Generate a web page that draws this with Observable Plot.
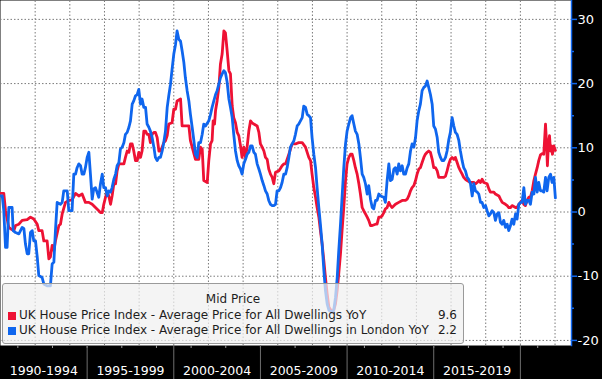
<!DOCTYPE html>
<html>
<head>
<meta charset="utf-8">
<script src="https://cdn.jsdelivr.net/npm/d3@7"></script>
<script src="https://cdn.jsdelivr.net/npm/@observablehq/plot@0.6"></script>
<style>
  html, body { margin: 0; padding: 0; background: #000; }
  #wrap { position: relative; width: 602px; height: 379px; font-family: "DejaVu Sans", sans-serif; }
  #legend { position: absolute; left: 2px; top: 283px; width: 460px; height: 59px;
    background: rgba(240,240,240,0.72); border: 1px solid #9a9a9a; border-radius: 3px;
    font-size: 12px; line-height: 14px; color: #1e1e1e; }
  #legend .ttl { position: absolute; left: 0; right: 0; top: 8px; text-align: center; }
  #legend .sw { position: absolute; left: 5px; width: 8px; height: 8px; }
  #legend .lab { position: absolute; left: 16px; white-space: nowrap; }
  #legend .val { position: absolute; right: 6px; text-align: right; }
</style>
</head>
<body>
<div id="wrap"></div>
<script>
// ---- data ----
const seriesNames = [
  "UK House Price Index - Average Price for All Dwellings YoY",
  "UK House Price Index - Average Price for All Dwellings in London YoY"
];
const legendTitle = "Mid Price";
const periodLabels = ["1990-1994", "1995-1999", "2000-2004", "2005-2009", "2010-2014", "2015-2019"];
const periodMid = [1992.5, 1997.5, 2002.5, 2007.5, 2012.5, 2017.5];
const periodStart = [1995, 2000, 2005, 2010, 2015, 2020];
const yTicks = [-20, -10, 0, 10, 20, 30];
const yMinorTicks = [-15, -5, 5, 15, 25];
const gridYears = [1992, 1994, 1996, 1998, 2000, 2002, 2004, 2006, 2008, 2010, 2012, 2014, 2016, 2018, 2020, 2022];
const oddYears = [1991, 1993, 1995, 1997, 1999, 2001, 2003, 2005, 2007, 2009, 2011, 2013, 2015, 2017, 2019, 2021];

// UK average price YoY % [decimal year, value]
const ukYoY = [
[1990.00,2.9],[1990.19,2.9],[1990.29,0.2],[1990.48,-2.4],[1990.58,-2.6],[1990.77,-2.9],[1990.87,-2.1],
[1991.06,-1.9],[1991.25,-1.3],[1991.54,-1.2],[1991.73,-0.8],[1991.92,-1.1],[1992.12,-1.9],[1992.21,-2.9],
[1992.40,-2.9],[1992.50,-4.5],[1992.69,-4.5],[1992.79,-7.3],[1992.88,-7.0],[1992.98,-5.2],[1993.08,-6.0],
[1993.17,-4.5],[1993.37,-2.1],[1993.46,-1.9],[1993.56,-0.3],[1993.75,1.5],[1993.94,1.8],[1994.13,1.9],
[1994.33,2.9],[1994.52,2.5],[1994.71,2.8],[1994.90,1.5],[1995.10,1.5],[1995.29,1.2],
[1995.48,0.7],[1995.67,0.2],[1995.77,-0.1],[1995.87,-0.1],[1995.96,1.2],[1996.06,2.3],[1996.16,3.1],
[1996.25,2.5],[1996.35,1.2],[1996.44,2.5],[1996.54,4.4],[1996.64,4.4],[1996.73,6.4],[1996.83,7.5],
[1997.12,7.5],[1997.21,8.5],[1997.31,9.5],[1997.41,9.3],[1997.50,10.6],[1997.60,10.6],[1997.69,9.5],
[1997.79,8.0],[1997.89,8.0],[1997.98,9.3],[1998.08,8.5],[1998.17,9.5],[1998.27,12.6],[1998.37,12.6],
[1998.46,12.1],[1998.56,12.1],[1998.65,10.8],[1998.75,12.1],[1998.85,12.4],[1998.94,12.4],[1999.04,11.6],
[1999.14,9.5],[1999.23,9.5],[1999.33,10.1],[1999.42,10.8],[1999.52,11.1],[1999.62,11.9],[1999.71,13.7],
[1999.90,13.9],[2000.00,16.0],[2000.10,16.0],[2000.19,17.3],[2000.39,17.6],[2000.48,13.4],[2000.67,13.4],
[2000.87,13.4],
[2000.96,11.1],[2001.06,10.1],[2001.25,8.2],[2001.44,8.2],[2001.54,10.1],[2001.64,9.8],[2001.73,4.9],
[2001.93,4.6],[2002.02,8.0],[2002.12,10.6],[2002.21,11.1],[2002.27,14.2],[2002.35,13.7],[2002.41,15.8],
[2002.50,17.3],[2002.60,19.4],[2002.69,23.0],[2002.79,24.6],[2002.89,28.2],[2002.98,27.9],[2003.08,25.1],
[2003.18,22.0],[2003.27,21.5],[2003.37,16.5],[2003.46,14.7],[2003.56,13.9],[2003.66,12.4],[2003.75,11.9],
[2003.85,10.3],[2003.94,8.5],[2004.04,10.1],[2004.14,8.5],[2004.23,10.1],[2004.33,12.6],[2004.43,14.2],
[2004.52,13.9],[2004.62,13.7],[2004.81,13.4],[2004.91,12.4],[2005.00,10.6],[2005.10,10.1],[2005.20,9.5],
[2005.29,8.5],[2005.39,8.2],[2005.48,6.7],[2005.58,5.9],[2005.68,5.4],[2005.77,4.4],[2005.87,6.2],
[2006.06,6.4],[2006.25,7.2],[2006.35,7.5],
[2006.45,7.5],[2006.64,9.0],[2006.83,10.6],[2007.02,10.6],[2007.21,10.8],[2007.41,10.8],[2007.60,10.1],
[2007.79,8.5],[2007.89,8.0],[2007.98,5.9],[2008.08,3.8],[2008.18,2.3],[2008.27,0.7],[2008.37,-0.8],
[2008.46,-2.9],[2008.56,-5.0],[2008.66,-7.6],[2008.75,-10.2],[2008.85,-12.7],[2008.95,-14.8],[2009.14,-15.6],
[2009.23,-15.3],[2009.33,-14.3],[2009.43,-12.2],[2009.52,-9.6],[2009.62,-6.5],[2009.71,-2.9],[2009.81,0.7],
[2009.91,4.9],[2010.00,7.5],[2010.10,8.5],[2010.20,9.0],[2010.29,9.0],[2010.39,8.0],[2010.48,6.9],
[2010.58,5.9],[2010.68,4.4],[2010.77,2.8],[2010.87,0.7],[2010.96,0.2],[2011.06,-0.3],[2011.16,-0.8],
[2011.25,-1.3],[2011.35,-2.1],[2011.45,-2.1],[2011.64,-1.9],[2011.73,-1.9],[2011.83,-0.8],
[2011.93,-0.8],[2012.02,-0.6],[2012.12,-0.1],[2012.21,0.5],[2012.31,0.7],[2012.41,1.5],[2012.50,1.0],
[2012.60,0.7],[2012.79,1.2],[2012.98,1.5],[2013.18,1.8],[2013.37,1.8],[2013.47,2.0],[2013.56,2.5],
[2013.66,3.3],[2013.75,3.8],[2013.85,4.1],[2013.95,4.9],[2014.04,5.9],[2014.14,6.7],[2014.23,6.9],
[2014.33,7.7],[2014.43,8.5],[2014.52,9.0],[2014.62,9.3],[2014.71,9.5],[2014.81,9.3],[2014.91,8.2],
[2015.00,6.9],[2015.10,6.9],[2015.20,6.4],[2015.29,5.4],[2015.58,5.4],[2015.68,5.6],[2015.77,6.4],
[2015.87,7.5],[2015.96,8.2],[2016.06,8.5],[2016.16,8.2],[2016.25,8.5],[2016.35,7.7],[2016.45,6.9],
[2016.54,6.4],[2016.64,5.9],[2016.73,5.4],[2016.83,5.1],[2016.93,4.9],[2017.12,4.6],[2017.31,4.6],
[2017.41,4.4],[2017.51,4.6],[2017.60,4.9],[2017.70,4.6],[2017.79,5.1],[2017.89,4.6],[2018.08,4.4],
[2018.18,3.6],[2018.27,3.1],[2018.47,3.1],[2018.56,2.8],[2018.76,2.5],[2018.85,2.0],[2018.95,1.5],
[2019.14,1.2],[2019.24,1.0],[2019.33,0.7],[2019.43,0.7],[2019.52,1.0],[2019.72,0.7],[2019.81,0.7],
[2019.91,1.2],[2020.10,1.8],[2020.20,1.2],[2020.29,1.0],[2020.39,1.8],[2020.49,2.3],[2020.58,2.3],
[2020.68,3.3],[2020.78,4.9],[2020.87,5.9],[2020.97,6.9],[2021.06,8.0],[2021.16,8.9],[2021.26,9.1],
[2021.35,9.0],[2021.45,13.7],[2021.51,10.6],[2021.56,7.2],[2021.62,10.6],[2021.68,11.9],[2021.74,9.5],
[2021.79,10.3],[2021.85,9.0],[2021.93,10.3],[2022.02,9.6]
];

// London average price YoY % [decimal year, value]
const londonYoY = [
[1990.00,2.5],[1990.10,2.5],[1990.19,0.2],[1990.29,-5.5],[1990.38,-5.5],[1990.48,0.7],[1990.67,0.7],
[1990.73,-2.9],[1990.87,-3.2],[1991.06,-3.4],[1991.25,-2.4],[1991.35,-2.6],[1991.44,-5.0],[1991.54,-6.5],
[1991.63,-6.5],[1991.73,-3.2],[1991.83,-2.9],[1991.92,-4.5],[1992.02,-4.5],[1992.12,-7.0],[1992.21,-9.9],
[1992.40,-10.2],[1992.50,-11.2],[1992.69,-11.5],[1992.88,-11.5],[1992.98,-8.1],[1993.08,-7.8],[1993.17,-2.9],
[1993.27,1.5],[1993.46,1.2],[1993.56,1.5],[1993.65,3.3],[1993.85,3.3],[1993.94,0.2],[1994.13,0.2],
[1994.23,5.9],[1994.33,5.9],[1994.42,6.9],[1994.52,7.5],[1994.62,7.2],[1994.71,5.9],[1994.81,5.9],
[1994.90,6.9],[1995.00,8.5],[1995.10,9.3],[1995.19,5.9],[1995.29,2.0],[1995.38,3.6],
[1995.48,3.8],[1995.67,2.3],[1995.77,4.4],[1995.87,5.9],[1995.96,3.8],[1996.06,3.8],[1996.16,2.5],
[1996.25,3.3],[1996.35,3.1],[1996.44,3.8],[1996.54,5.1],[1996.64,5.9],[1996.73,7.2],[1996.83,7.7],
[1996.92,9.8],[1997.02,10.1],[1997.12,10.8],[1997.21,12.1],[1997.31,12.4],[1997.41,13.2],[1997.50,14.2],
[1997.60,16.8],[1997.69,17.3],[1997.79,18.1],[1997.89,18.3],[1997.98,19.1],[1998.08,16.8],[1998.17,17.6],
[1998.27,16.3],[1998.37,16.3],[1998.46,13.7],[1998.56,13.2],[1998.65,12.6],[1998.75,11.6],[1998.85,10.1],
[1998.94,8.5],[1999.04,8.0],[1999.14,8.5],[1999.23,8.5],[1999.33,9.5],[1999.42,10.8],[1999.52,12.6],
[1999.62,16.3],[1999.71,18.1],[1999.81,19.9],[1999.90,22.2],[2000.00,24.6],[2000.10,26.1],[2000.19,28.2],
[2000.29,26.9],[2000.39,26.6],[2000.48,25.1],[2000.58,23.3],[2000.67,20.9],[2000.77,18.9],[2000.87,17.3],
[2000.96,15.2],[2001.06,13.2],[2001.16,11.1],[2001.25,9.0],[2001.35,8.5],[2001.44,10.8],[2001.54,10.8],
[2001.64,12.1],[2001.73,13.7],[2001.83,13.4],[2002.02,14.2],[2002.12,15.2],[2002.21,16.3],[2002.31,17.3],
[2002.41,18.3],[2002.50,18.9],[2002.60,19.9],[2002.69,20.9],[2002.79,21.5],[2002.89,22.0],[2002.98,21.7],
[2003.08,20.2],[2003.18,17.6],[2003.27,16.3],[2003.37,14.7],[2003.46,12.1],[2003.56,9.5],[2003.66,8.0],
[2003.75,7.2],[2003.85,6.7],[2003.94,5.9],[2004.04,7.5],[2004.14,8.2],[2004.23,9.0],[2004.33,9.3],
[2004.43,10.3],[2004.52,10.3],[2004.62,9.3],[2004.71,9.0],[2004.81,7.5],[2004.91,6.7],[2005.00,5.9],
[2005.10,4.9],[2005.20,4.1],[2005.29,3.3],[2005.39,2.8],[2005.48,1.8],[2005.58,1.2],[2005.68,1.0],
[2005.77,1.0],[2005.87,1.2],[2005.96,3.3],[2006.06,3.3],[2006.16,3.8],[2006.25,4.6],[2006.35,5.9],
[2006.45,5.9],[2006.54,6.9],[2006.64,8.5],[2006.73,10.1],[2006.83,10.6],[2006.93,11.1],[2007.02,12.1],
[2007.12,13.4],[2007.21,13.7],[2007.31,14.2],[2007.41,14.7],[2007.50,16.5],[2007.60,16.3],[2007.70,15.2],
[2007.79,15.0],[2007.89,14.7],[2007.98,11.6],[2008.08,9.0],[2008.18,6.9],[2008.27,3.8],[2008.37,0.7],
[2008.46,-1.9],[2008.56,-5.0],[2008.66,-9.1],[2008.75,-12.2],[2008.85,-14.3],[2008.95,-15.3],[2009.14,-15.6],
[2009.23,-15.3],[2009.33,-13.3],[2009.43,-10.2],[2009.52,-6.0],[2009.62,-1.9],[2009.71,2.3],[2009.81,6.9],
[2009.91,10.6],[2010.00,12.6],[2010.10,13.7],[2010.20,14.7],[2010.29,15.0],[2010.39,13.7],[2010.48,12.6],
[2010.58,12.1],[2010.68,10.6],[2010.77,8.5],[2010.87,5.9],[2010.96,5.4],[2011.06,4.4],[2011.16,2.8],
[2011.25,4.1],[2011.35,2.0],[2011.45,0.7],[2011.54,0.5],[2011.64,1.8],[2011.73,1.8],[2011.83,2.8],
[2011.93,2.5],[2012.12,2.3],[2012.21,1.5],[2012.31,4.9],[2012.41,7.5],[2012.50,4.9],[2012.60,5.1],
[2012.70,6.7],[2012.79,6.9],[2012.89,5.9],[2012.98,7.5],[2013.08,6.4],[2013.18,7.2],[2013.27,5.9],
[2013.37,5.9],[2013.47,6.9],[2013.56,7.5],[2013.66,9.5],[2013.75,10.6],[2013.85,10.1],[2013.95,11.6],
[2014.04,14.2],[2014.14,15.8],[2014.23,16.8],[2014.33,18.9],[2014.43,19.4],[2014.52,19.6],[2014.62,20.4],
[2014.71,19.4],[2014.81,18.3],[2014.91,16.8],[2015.00,13.4],[2015.10,12.9],[2015.20,11.6],[2015.29,9.3],
[2015.39,8.5],[2015.48,8.0],[2015.58,8.0],[2015.68,8.5],[2015.77,9.5],[2015.87,11.3],[2015.96,12.4],
[2016.06,14.7],[2016.16,13.4],[2016.25,12.4],[2016.35,12.1],[2016.45,11.1],[2016.54,9.5],[2016.64,8.0],
[2016.73,6.9],[2016.83,6.4],[2016.93,5.4],[2017.02,5.1],[2017.12,4.4],[2017.22,2.5],[2017.31,4.4],
[2017.41,3.3],[2017.51,3.1],[2017.60,2.8],[2017.70,1.5],[2017.79,1.5],[2017.89,0.7],[2017.99,1.0],
[2018.08,0.2],[2018.18,-0.6],[2018.27,-0.3],[2018.37,0.2],[2018.47,-0.1],[2018.56,-1.3],[2018.66,-0.3],
[2018.76,-0.1],[2018.85,-1.6],[2018.95,-1.9],[2019.04,-1.3],[2019.14,-2.4],[2019.24,-1.9],[2019.33,-2.9],
[2019.43,-2.1],[2019.52,-1.1],[2019.62,-1.9],[2019.72,-0.3],[2019.81,-1.1],[2019.91,1.2],[2020.01,1.5],
[2020.10,1.5],[2020.20,3.8],[2020.29,1.2],[2020.39,1.8],[2020.49,1.8],[2020.58,1.2],[2020.68,3.1],
[2020.78,2.8],[2020.87,5.4],[2020.97,3.1],[2021.06,4.6],[2021.16,3.3],[2021.26,3.3],[2021.35,3.1],
[2021.45,5.4],[2021.54,3.3],[2021.64,5.4],[2021.74,5.9],[2021.83,4.6],[2021.93,5.4],[2022.02,2.2]
];

// ---- styling ----
const RED = "#ee1234";
const BLUE = "#0f66ee";
const GRID = "#7a7a7a";
const PLOT_W = 571, PLOT_H = 345;

const chart = Plot.plot({
  width: 602,
  height: 379,
  marginLeft: 0,
  marginRight: 31,
  marginTop: 0,
  marginBottom: 34,
  x: { domain: [1990, 2022.95] },
  y: { domain: [-20.79, 32.94] },
  style: { background: "#000", fontFamily: "DejaVu Sans, sans-serif" },
  marks: [
    Plot.frame({ fill: "#fff", stroke: "none" }),
    // dotted grid drawn as inward-reaching axis ticks
    Plot.axisY(yTicks, { anchor: "right", tickSize: -PLOT_W, stroke: GRID, strokeOpacity: 1, strokeWidth: 1,
      strokeDasharray: "1.5,2", text: null }),
    Plot.axisX(gridYears, { anchor: "bottom", tickSize: -PLOT_H, stroke: GRID, strokeOpacity: 1, strokeWidth: 1,
      strokeDasharray: "1.5,2", text: null }),
    Plot.line(ukYoY, { x: d => d[0], y: d => d[1], stroke: RED, strokeWidth: 2.8, strokeLinejoin: "round" }),
    Plot.line(londonYoY, { x: d => d[0], y: d => d[1], stroke: BLUE, strokeWidth: 2.8, strokeLinejoin: "round" }),
    Plot.axisY(yTicks, { anchor: "right", tickSize: 5, tickPadding: 1, stroke: BLUE, strokeWidth: 1.5,
      fill: "#fff", fontSize: 13, tickFormat: d => String(d) }),
    Plot.axisY(yMinorTicks, { anchor: "right", tickSize: 2, stroke: BLUE, strokeWidth: 1.5, text: null }),
    Plot.frame({ anchor: "right", stroke: BLUE, strokeWidth: 1.5 }),
    Plot.axisX(oddYears, { anchor: "bottom", tickSize: 3, stroke: "#999", text: null }),
    Plot.axisX(periodStart, { anchor: "bottom", tickSize: 34, stroke: "#6e6e6e", text: null }),
    Plot.axisX(periodMid, { anchor: "bottom", tickSize: 0, tickPadding: 21, fill: "#fff", fontSize: 12.5,
      tickFormat: d => periodLabels[periodMid.indexOf(d)] })
  ]
});

const wrap = document.getElementById("wrap");
wrap.appendChild(chart);

// legend overlay (semi-transparent, like the reference)
const legend = document.createElement("div");
legend.id = "legend";
const lastUK = ukYoY[ukYoY.length - 1][1];
const lastLondon = londonYoY[londonYoY.length - 1][1];
legend.innerHTML = `
  <div class="ttl">${legendTitle}</div>
  <div class="sw" style="top:28px;background:${RED}"></div>
  <div class="lab" style="top:24px">${seriesNames[0]}</div>
  <div class="val" style="top:24px">${lastUK.toFixed(1)}</div>
  <div class="sw" style="top:43px;background:${BLUE}"></div>
  <div class="lab" style="top:39px">${seriesNames[1]}</div>
  <div class="val" style="top:39px">${lastLondon.toFixed(1)}</div>`;
wrap.appendChild(legend);
</script>
</body>
</html>
